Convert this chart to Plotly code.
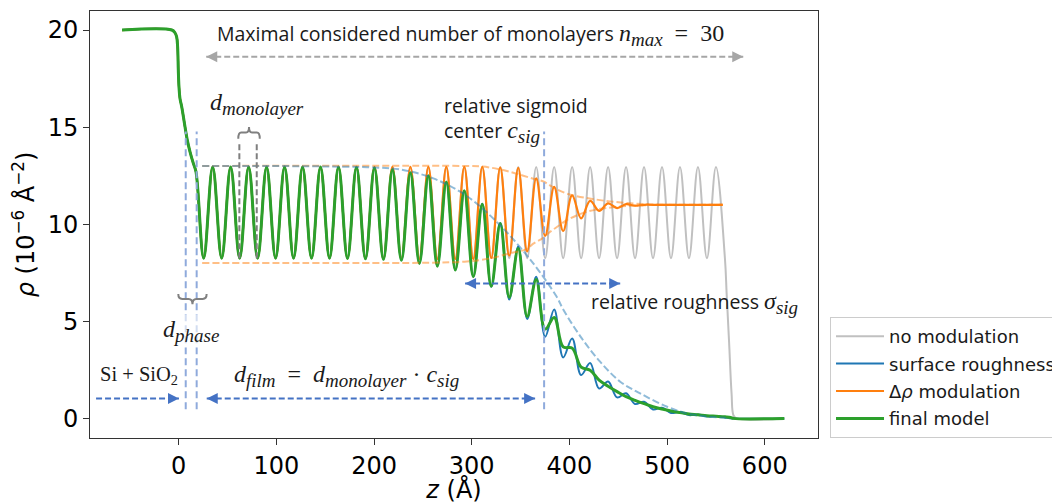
import plotly.graph_objects as go

# ---------------- data ----------------
# substrate (Si + SiO2) and interface, shared by all four profiles
z_sub = [-58.0, -7.0, -3.8, -2.1, -1.1, -0.4, 0.3, 1.3, 3.1, 6.5, 8.8, 11.6, 15.0, 17.7]
rho_sub = [20.0, 20.0, 19.86, 19.65, 19.14, 17.93, 17.07, 16.48, 16.05, 15.0, 14.33, 13.73, 13.13, 12.7]

# film extrema positions (troughs / peaks alternate)
z_film = [25.6, 34.8, 44.0, 53.2, 62.4, 71.6, 80.8, 90.0, 99.2, 108.4,
          117.6, 126.8, 136.0, 145.2, 154.4, 163.6, 172.8, 182.0, 191.2, 200.4,
          209.6, 218.8, 228.0, 237.2, 246.4, 255.6, 264.8, 274.0, 283.2, 292.4,
          301.6, 310.8, 320.0, 329.2, 338.4, 347.6, 356.8, 366.0, 375.2, 384.4,
          393.6, 402.8, 412.0, 421.2, 430.4, 439.6, 448.8, 458.0, 467.2, 476.4,
          485.6, 494.8, 504.0, 513.2, 522.4, 531.6, 540.8, 550.0, 559.2]

rho_none = [8.25, 12.95, 8.25, 12.95, 8.25, 12.95, 8.25, 12.95, 8.25, 12.95,
            8.25, 12.95, 8.25, 12.95, 8.25, 12.95, 8.25, 12.95, 8.25, 12.95,
            8.25, 12.95, 8.25, 12.95, 8.25, 12.95, 8.25, 12.95, 8.25, 12.95,
            8.25, 12.95, 8.25, 12.95, 8.25, 12.95, 8.25, 12.95, 8.25, 12.95,
            8.25, 12.95, 8.25, 12.95, 8.25, 12.95, 8.25, 12.95, 8.25, 12.95,
            8.25, 12.95, 8.25, 12.95, 8.25, 12.95, 8.25, 12.95, 8.25]

rho_rough = [8.25, 12.95, 8.25, 12.95, 8.25, 12.95, 8.25, 12.95, 8.25, 12.95,
             8.25, 12.95, 8.25, 12.95, 8.25, 12.95, 8.24, 12.93, 8.22, 12.9,
             8.19, 12.8, 8.14, 12.65, 7.98, 12.5, 7.84, 12.18, 7.64, 11.72,
             7.3, 11.05, 6.78, 10.06, 6.12, 8.85, 5.12, 7.3, 4.2, 5.61,
             3.14, 4.12, 2.23, 2.85, 1.54, 1.9, 1.08, 1.29, 0.74, 0.86,
             0.46, 0.55, 0.28, 0.33, 0.17, 0.2, 0.1, 0.12, 0.05]

rho_mod = [8.25, 12.95, 8.25, 12.95, 8.25, 12.95, 8.25, 12.95, 8.25, 12.95,
           8.25, 12.95, 8.25, 12.95, 8.25, 12.95, 8.24, 12.95, 8.22, 12.95,
           8.2, 12.95, 8.2, 12.95, 8.2, 12.95, 8.2, 12.95, 8.2, 12.95,
           8.2, 12.95, 8.26, 12.93, 8.38, 12.9, 8.6, 12.36, 9.4, 11.92,
           9.65, 11.48, 10.3, 11.2, 10.69, 11.07, 10.83, 11.03, 10.95, 11.0,
           11.0, 11.0, 11.0, 11.0, 11.0, 11.0, 11.0, 11.0]

rho_final = [8.25, 12.95, 8.25, 12.95, 8.25, 12.95, 8.25, 12.95, 8.25, 12.95,
             8.25, 12.95, 8.25, 12.95, 8.25, 12.95, 8.24, 12.93, 8.22, 12.9,
             8.19, 12.8, 8.14, 12.65, 7.98, 12.5, 7.84, 12.18, 7.64, 11.72,
             7.3, 11.03, 6.8, 10.04, 6.24, 8.75, 5.25, 7.15, 4.6, 5.2,
             3.68, 3.62, 2.64, 2.48, 1.97, 1.66, 1.38, 1.12, 0.93, 0.76,
             0.6, 0.48, 0.38, 0.3, 0.23, 0.19, 0.14, 0.11, 0.08]

# end of the profiles
z_tail_none = [561.0, 563.5, 566.0, 568.0, 571.0, 620.0]
rho_tail_none = [6.4, 3.9, 1.3, 0.15, 0.0, 0.0]
z_tail_rough = [567.0, 620.0]
rho_tail_rough = [0.0, 0.0]
z_tail_final = [565.0, 568.0, 620.0]
rho_tail_final = [0.05, 0.0, 0.0]
z_mod_end = [557.0]
rho_mod_end = [11.0]

# guide envelopes
z_env_sig = [24.0, 120.0, 170.0, 200.0, 226.6, 260.7, 294.9, 329.0, 363.0, 387.0,
             394.0, 412.7, 431.4, 452.0, 472.4, 500.0, 523.6, 560.0]
rho_env_sig = [13.0, 12.99, 12.96, 12.92, 12.82, 12.36, 11.45, 9.95, 7.98, 6.26,
               5.58, 4.12, 2.92, 1.89, 1.29, 0.6, 0.22, 0.03]
z_env_up = [24.0, 290.0, 311.0, 329.0, 346.0, 363.0, 373.4, 380.0, 397.3, 431.4, 465.6, 500.0, 557.0]
rho_env_up = [13.0, 13.0, 12.97, 12.82, 12.6, 12.34, 12.2, 12.0, 11.58, 11.24, 11.07, 11.0, 11.0]
z_env_lo = [24.0, 200.0, 260.0, 295.0, 320.0, 339.0, 356.0, 363.0, 373.4, 380.0, 390.5,
            397.3, 417.8, 448.5, 465.6, 500.0, 557.0]
rho_env_lo = [8.0, 8.0, 8.02, 8.08, 8.25, 8.5, 8.72, 9.0, 9.3, 9.6, 9.97,
              10.21, 10.64, 10.9, 10.96, 11.0, 11.0]

# ---------------- styling ----------------
C_GREY = "#c0c0c0"
C_BLUE = "#1f77b4"
C_ORANGE = "#ff7f0e"
C_GREEN = "#2ca02c"
C_ARROW = "#4472c4"
C_VLINE = "#8faadc"
SERIF = "font-family:Liberation Serif"
TXT_FONT = dict(family="Open Sans", size=19.5, color="#1a1a1a")


def msub(base, sub, size=24, subsize=19):
    return (f'<span style="{SERIF};font-style:italic;font-size:{size}px">{base}<sub>'
            f'<span style="font-size:{subsize}px">{sub}</span></sub></span>')


def mup(txt, size=24):
    return f'<span style="{SERIF};font-size:{size}px">{txt}</span>'


fig = go.Figure()

SM = 1.05
fig.add_trace(go.Scatter(x=z_sub + z_film + z_tail_none, y=rho_sub + rho_none + rho_tail_none,
                         mode="lines", name="no modulation", legendgroup="a",
                         line=dict(color=C_GREY, width=2, shape="spline", smoothing=SM)))
fig.add_trace(go.Scatter(x=z_sub + z_film + z_tail_rough, y=rho_sub + rho_rough + rho_tail_rough,
                         mode="lines", name="surface roughness", legendgroup="b",
                         line=dict(color=C_BLUE, width=2, shape="spline", smoothing=SM)))
fig.add_trace(go.Scatter(x=z_sub + z_film[:58] + z_mod_end, y=rho_sub + rho_mod + rho_mod_end,
                         mode="lines", name="Δ<i>ρ</i> modulation", legendgroup="c",
                         line=dict(color=C_ORANGE, width=2.2, shape="spline", smoothing=SM)))
fig.add_trace(go.Scatter(x=z_sub + z_film + z_tail_final, y=rho_sub + rho_final + rho_tail_final,
                         mode="lines", name="final model", legendgroup="d",
                         line=dict(color=C_GREEN, width=3, shape="spline", smoothing=SM)))

for zz, rr, col in [(z_env_up, rho_env_up, "rgba(255,127,14,0.5)"),
                    (z_env_lo, rho_env_lo, "rgba(255,127,14,0.5)"),
                    (z_env_sig, rho_env_sig, "rgba(31,119,180,0.5)")]:
    fig.add_trace(go.Scatter(x=zz, y=rr, mode="lines", showlegend=False, hoverinfo="skip",
                             line=dict(color=col, width=2, dash="7px,3px", shape="spline")))

shapes = []
# vertical blue guide lines (d_phase borders and sigmoid center)
for zv in [7.2, 18.4, 374.1]:
    shapes.append(dict(type="line", x0=zv, x1=zv, y0=0.47, y1=14.78, xref="x", yref="y",
                       line=dict(color=C_VLINE, width=2, dash="7px,4px")))
# grey monolayer lines
for zv in [62.1, 79.9]:
    shapes.append(dict(type="line", x0=zv, x1=zv, y0=8.25, y1=14.24, xref="x", yref="y",
                       line=dict(color="#7f7f7f", width=2, dash="6px,3px")))
# dashed arrow shafts
shafts = [(28.2, 578.0, 18.62, "#a6a6a6"), (293.2, 452.0, 6.95, C_ARROW),
          (-84.6, 0.3, 1.03, C_ARROW), (28.7, 364.9, 1.03, C_ARROW)]
for xa, xb, yy, col in shafts:
    shapes.append(dict(type="line", x0=xa, x1=xb, y0=yy, y1=yy, xref="x", yref="y",
                       line=dict(color=col, width=2, dash="6px,3px")))


def brace(a, b, yb, ym, yt, r):
    m = (a + b) / 2
    return (f"M {a},{yb} Q {a},{ym} {a + r},{ym} L {m - r},{ym} Q {m},{ym} {m},{yt} "
            f"Q {m},{ym} {m + r},{ym} L {b - r},{ym} Q {b},{ym} {b},{yb}")


shapes.append(dict(type="path", path=brace(61.0, 83.0, 14.4, 14.72, 15.0, 3.0), xref="x", yref="y",
                   line=dict(color="#808080", width=2)))
shapes.append(dict(type="path", path=brace(-0.4, 28.6, 6.4, 6.15, 5.88, 4.0), xref="x", yref="y",
                   line=dict(color="#808080", width=2)))

annotations = []
# arrow heads
heads = [(28.2, 18.62, 12, "#a6a6a6"), (578.0, 18.62, -12, "#a6a6a6"),
         (293.2, 6.95, 12, C_ARROW), (452.0, 6.95, -12, C_ARROW),
         (0.3, 1.03, -12, C_ARROW), (28.7, 1.03, 12, C_ARROW), (364.9, 1.03, -12, C_ARROW)]
for xh, yh, axp, col in heads:
    annotations.append(dict(x=xh, y=yh, xref="x", yref="y", ax=axp, ay=0, text="",
                            showarrow=True, arrowhead=2, arrowsize=1.1, arrowwidth=2,
                            arrowcolor=col, standoff=0))

annotations += [
    dict(x=37.1, y=19.74, xanchor="left",
         text="Maximal considered number of monolayers " + msub("n", "max") + mup("\u2002=\u200230"),
         font=TXT_FONT),
    dict(x=80.0, y=16.2, text=msub("d", "monolayer"), font=dict(size=24, color="#1a1a1a")),
    dict(x=269.3, y=15.4, xanchor="left", align="left",
         text="relative sigmoid<br>center " + msub("c", "sig"), font=TXT_FONT),
    dict(x=420.2, y=5.94, xanchor="left", text="relative roughness " + msub("σ", "sig"), font=TXT_FONT),
    dict(x=12.8, y=4.5, text=msub("d", "phase"), font=dict(size=24, color="#1a1a1a"),
         bgcolor="rgba(255,255,255,0.6)"),
    dict(x=-40.6, y=2.23, text="Si + SiO<sub>2</sub>",
         font=dict(family="Liberation Serif", size=20.5, color="#1a1a1a")),
    dict(x=54.6, y=2.2, xanchor="left",
         text=msub("d", "film") + mup("\u2002=\u2002") + msub("d", "monolayer") +
         mup(" · ") + msub("c", "sig"), font=dict(size=24, color="#1a1a1a")),
]
for an in annotations:
    an.setdefault("xref", "x")
    an.setdefault("yref", "y")
    an.setdefault("showarrow", False)

axis_common = dict(showline=True, linecolor="#333333", linewidth=1, mirror=True,
                   ticks="outside", ticklen=6, tickcolor="#333333", showgrid=False, zeroline=False,
                   tickfont=dict(family="DejaVu Sans", size=24, color="black"))

# the page body adds an 8px offset, so the figure is 8px smaller than the window
fig.update_layout(
    width=1052, height=496,
    margin=dict(l=82, r=242, t=3, b=66, autoexpand=False),
    paper_bgcolor="white", plot_bgcolor="white",
    xaxis=dict(range=[-90.8, 654.5], tickvals=[0, 100, 200, 300, 400, 500, 600],
               title=dict(text="<i>z</i> (Å)", font=dict(family="DejaVu Sans", size=24, color="black"),
                          standoff=11), **axis_common),
    yaxis=dict(range=[-1.01, 20.98], tickvals=[0, 5, 10, 15, 20],
               title=dict(text="<i>ρ</i> (10<sup>−6</sup> Å<sup>−2</sup>)",
                          font=dict(family="DejaVu Sans", size=24, color="black"), standoff=6),
               **axis_common),
    legend=dict(x=1.0165, y=0.0, xanchor="left", yanchor="bottom", bgcolor="white",
                bordercolor="#cccccc", borderwidth=1, itemwidth=48, tracegroupgap=1,
                font=dict(family="DejaVu Sans", size=18, color="#1a1a1a")),
    shapes=shapes, annotations=annotations,
    font=dict(family="DejaVu Sans"),
)

fig.write_html("out.html")
